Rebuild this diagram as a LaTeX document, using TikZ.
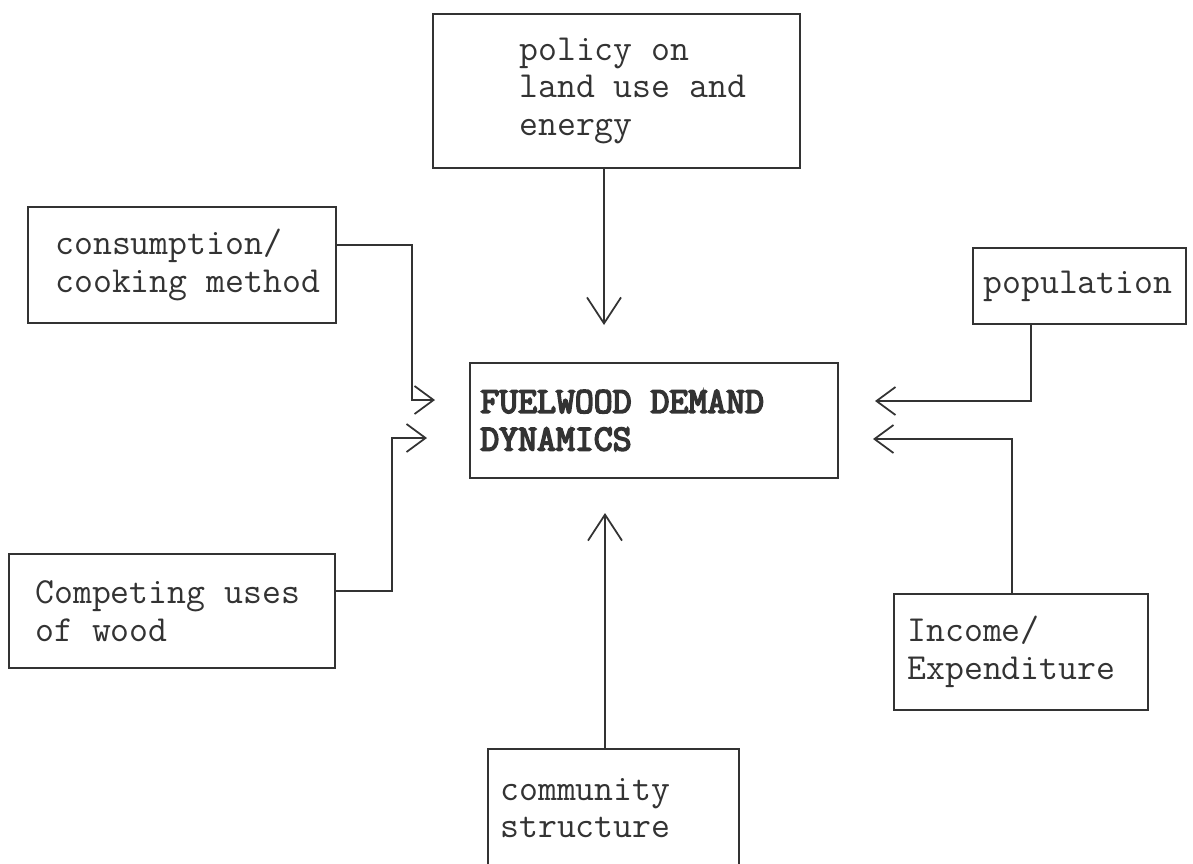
\documentclass[tikz,border=0pt]{standalone}
\usepackage{fontspec}
\usepackage{tikz}
\usetikzlibrary{arrows.meta}
\newfontfamily\heavytt{Latin Modern Mono}[FakeBold=4.5]
\definecolor{ink}{HTML}{333333}
\tikzset{
  >={Straight Barb[length=5.2mm,width=6.8mm]},
  side/.style={-{Straight Barb[length=3.8mm,width=5.6mm]}},
  box/.style={draw=ink, line width=1pt, anchor=north west, inner sep=0pt},
  boxtext/.style={font=\ttfamily\fontsize{20.9}{21.4}\selectfont, text=ink,
    align=left, inner sep=0pt, anchor=west},
  link/.style={draw=ink, line width=1pt, ->}
}

\begin{document}
\begin{tikzpicture}[x=0.02cm,y=-0.02cm]
\useasboundingbox (0,0) rectangle (1193,863);
% boxes
\node[box,minimum width=7.34cm,minimum height=3.08cm] (policy) at (432,13) {};
\node[boxtext,xshift=1.74cm] (policyT) at (policy.west) {policy on\\land use and\\energy};
\node[box,minimum width=6.16cm,minimum height=2.32cm] (consumption) at (27,206) {};
\node[boxtext,xshift=0.56cm] (consumptionT) at (consumption.west) {consumption/\\cooking method};
\node[box,minimum width=4.26cm,minimum height=1.52cm] (population) at (972,247) {};
\node[boxtext,xshift=0.22cm] (populationT) at (population.west) {population};
\node[box,minimum width=7.36cm,minimum height=2.30cm] (demand) at (469,362) {};
\node[boxtext,xshift=0.22cm,font=\heavytt\fontsize{20.9}{21.4}\selectfont] (demandT) at (demand.west) {FUELWOOD DEMAND\\DYNAMICS};
\node[box,minimum width=6.52cm,minimum height=2.28cm] (competing) at (8,553) {};
\node[boxtext,xshift=0.54cm] (competingT) at (competing.west) {Competing uses\\of wood};
\node[box,minimum width=5.08cm,minimum height=2.32cm] (income) at (893,593) {};
\node[boxtext,xshift=0.28cm] (incomeT) at (income.west) {Income/\\Expenditure};
\node[box,minimum width=5.02cm,minimum height=2.36cm] (community) at (487,748) {};
\node[boxtext,xshift=0.26cm] (communityT) at (community.west) {community\\structure};
% arrow tips, short of the centre box
\coordinate (tipN) at (604,325);
\coordinate (tipS) at (605,513);
\coordinate (tipW1) at (435,400);
\coordinate (tipW2) at (427,438);
\coordinate (tipE1) at (875,401);
\coordinate (tipE2) at (873,439);
% connectors
\draw[link] (tipN |- policy.south) -- (tipN);
\draw[link] (tipS |- community.north) -- (tipS);
\draw[link,side] (consumption.east |- 0,245) -| (412,400) -- (tipW1);
\draw[link,side] (competing.east |- 0,591) -| (392,438) -- (tipW2);
\draw[link,side] (population.south -| 1031,0) |- (tipE1);
\draw[link,side] (income.north -| 1012,0) |- (tipE2);
\end{tikzpicture}
\end{document}
